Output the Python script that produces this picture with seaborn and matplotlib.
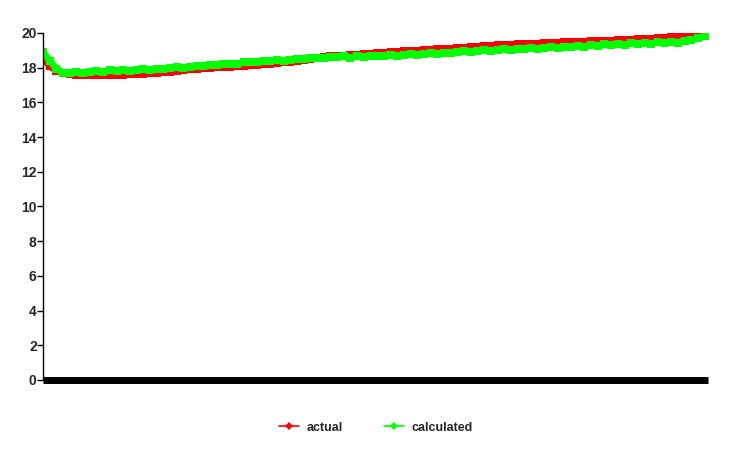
import numpy as np
import pandas as pd
import seaborn as sns
import matplotlib.pyplot as plt

# sample index along the run (no x labels shown in the chart)
sample = list(range(100))

actual = [
    18.55, 18.10, 17.82, 17.70, 17.64, 17.60, 17.60, 17.57, 17.58, 17.56,
    17.59, 17.58, 17.60, 17.62, 17.63, 17.66, 17.70, 17.71, 17.75, 17.78,
    17.82, 17.86, 17.90, 17.94, 17.98, 18.00, 18.02, 18.04, 18.06, 18.08,
    18.10, 18.13, 18.17, 18.20, 18.24, 18.28, 18.32, 18.35, 18.39, 18.44,
    18.50, 18.55, 18.60, 18.66, 18.68, 18.70, 18.72, 18.74, 18.77, 18.80,
    18.83, 18.86, 18.90, 18.93, 18.95, 18.97, 18.99, 19.01, 19.03, 19.05,
    19.07, 19.09, 19.12, 19.15, 19.18, 19.21, 19.24, 19.27, 19.30, 19.31,
    19.32, 19.34, 19.36, 19.37, 19.39, 19.41, 19.43, 19.44, 19.46, 19.47,
    19.49, 19.50, 19.51, 19.52, 19.54, 19.56, 19.58, 19.60, 19.62, 19.64,
    19.66, 19.68, 19.70, 19.72, 19.74, 19.76, 19.78, 19.80, 19.83, 19.86,
]

calculated = [
    18.90, 18.40, 17.95, 17.72, 17.68, 17.74, 17.72, 17.78, 17.80, 17.76,
    17.84, 17.80, 17.86, 17.83, 17.88, 17.90, 17.87, 17.94, 17.92, 17.98,
    18.02, 17.99, 18.06, 18.10, 18.12, 18.16, 18.14, 18.20, 18.24, 18.22,
    18.30, 18.34, 18.31, 18.38, 18.40, 18.44, 18.41, 18.47, 18.50, 18.48,
    18.54, 18.57, 18.55, 18.62, 18.60, 18.65, 18.58, 18.66, 18.63, 18.68,
    18.66, 18.70, 18.75, 18.68, 18.74, 18.78, 18.72, 18.80, 18.84, 18.78,
    18.86, 18.82, 18.90, 18.94, 18.88, 18.96, 19.00, 18.95, 19.04, 19.08,
    19.02, 19.10, 19.06, 19.14, 19.08, 19.16, 19.20, 19.12, 19.22, 19.18,
    19.26, 19.20, 19.30, 19.24, 19.34, 19.28, 19.36, 19.30, 19.40, 19.34,
    19.42, 19.38, 19.46, 19.40, 19.50, 19.45, 19.55, 19.60, 19.70, 19.80,
]

y_ticks = [0, 2, 4, 6, 8, 10, 12, 14, 16, 18, 20]

df = pd.DataFrame({
    "sample": sample * 2,
    "value": actual + calculated,
    "series": ["actual"] * len(sample) + ["calculated"] * len(sample),
})

sns.set_style("white")
plt.rcParams["font.family"] = ["Liberation Sans", "DejaVu Sans"]

fig = plt.figure(figsize=(7.3, 4.5), dpi=100)
ax = fig.add_axes([0.0589, 0.1556, 0.9111, 0.7711])

palette = {"actual": "#ff0000", "calculated": "#00ff00"}
sns.lineplot(
    data=df, x="sample", y="value", hue="series", style="series",
    markers={"actual": "s", "calculated": "s"},
    dashes=False, palette=palette, linewidth=5, markersize=6,
    markeredgewidth=0, ax=ax,
)

ax.set_xlim(0, 99.5)
ax.set_ylim(0, 20)
ax.set_yticks(y_ticks)
ax.set_yticklabels([str(t) for t in y_ticks], fontsize=10, fontweight="bold")
ax.set_xticks([])
ax.set_xlabel("")
ax.set_ylabel("")
ax.tick_params(axis="y", direction="out", length=4, width=1, color="black",
               left=True, pad=0.5)

for side in ["top", "right"]:
    ax.spines[side].set_visible(False)
ax.spines["left"].set_color("black")
ax.spines["left"].set_linewidth(1)
ax.spines["bottom"].set_color("black")
ax.spines["bottom"].set_linewidth(5)
ax.spines["bottom"].set_capstyle("butt")

leg = ax.legend(
    loc="center", bbox_to_anchor=(0.5, -0.138), ncol=2, frameon=False,
    handlelength=1.6, columnspacing=3.3, handletextpad=0.6,
    prop={"weight": "bold", "size": 9},
)
for h in leg.legend_handles:
    h.set_linewidth(1.2)
    h.set_marker("D")
    h.set_markersize(4)

fig.savefig("out.png", dpi=100)
